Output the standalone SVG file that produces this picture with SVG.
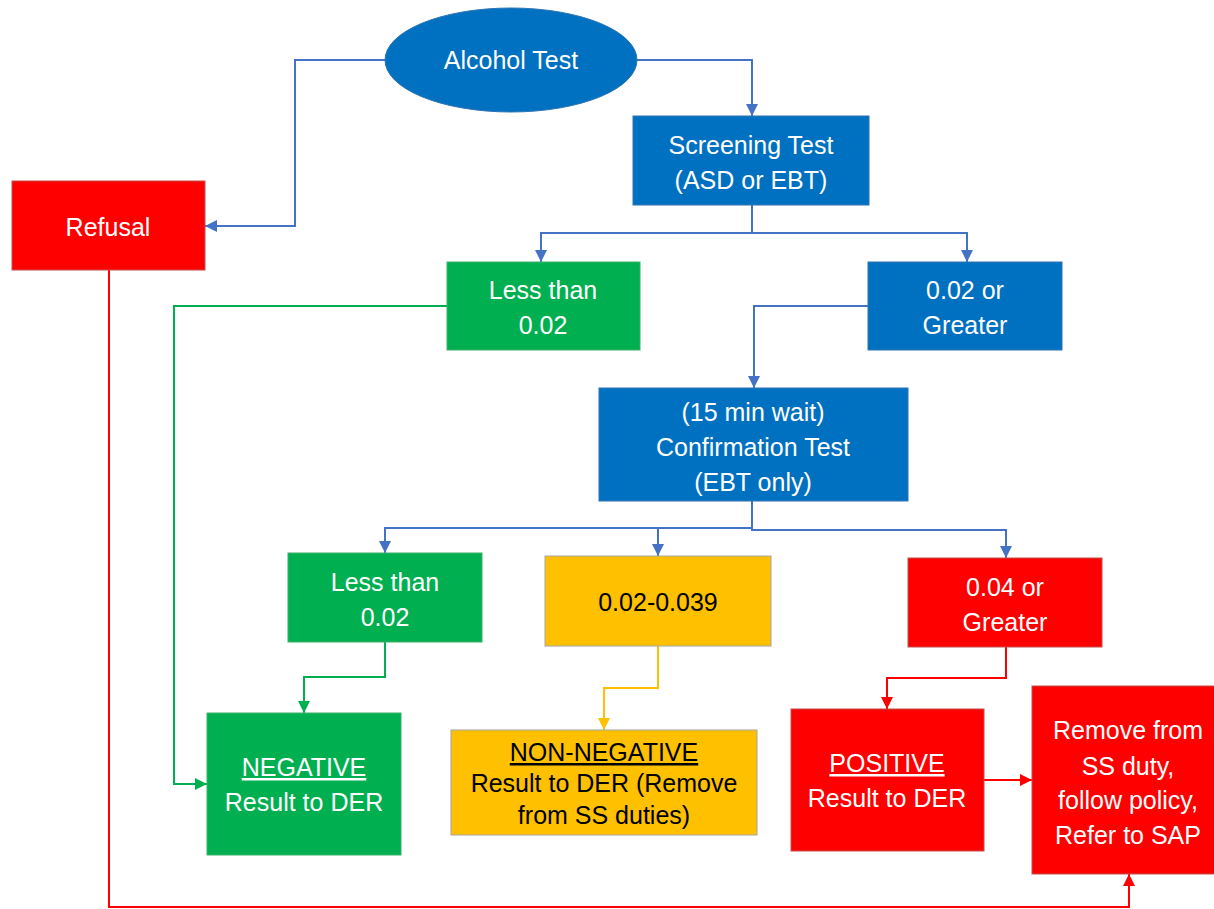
<svg xmlns="http://www.w3.org/2000/svg" width="1214" height="909" viewBox="0 0 1214 909">
<style>
.t{font-family:"Liberation Sans",Arial,sans-serif;font-size:25px;text-anchor:middle;fill:#ffffff}
.k{fill:#000000}
.u{text-decoration:underline}
.blue{fill:#0070C0;stroke:#2E75B6;stroke-width:1}
.green{fill:#00B050;stroke:#3BAF6E;stroke-width:1}
.red{fill:#FF0000;stroke:#C0504D;stroke-width:1}
.orange{fill:#FFC000;stroke:#A5A5A5;stroke-width:1}
.c{fill:none;stroke-width:2}
.cb{stroke:#4472C4;marker-end:url(#ab)}
.cg{stroke:#00B050;marker-end:url(#ag)}
.co{stroke:#FFC000;marker-end:url(#ao)}
.cr{stroke:#FF0000;marker-end:url(#ar)}
</style>
<defs>
<marker id="ab" viewBox="0 0 10 10" refX="10" refY="5" markerWidth="6" markerHeight="6" orient="auto" markerUnits="strokeWidth"><path d="M0,0 L10,5 L0,10 Z" fill="#4472C4"/></marker>
<marker id="ag" viewBox="0 0 10 10" refX="10" refY="5" markerWidth="6" markerHeight="6" orient="auto" markerUnits="strokeWidth"><path d="M0,0 L10,5 L0,10 Z" fill="#00B050"/></marker>
<marker id="ao" viewBox="0 0 10 10" refX="10" refY="5" markerWidth="6" markerHeight="6" orient="auto" markerUnits="strokeWidth"><path d="M0,0 L10,5 L0,10 Z" fill="#FFC000"/></marker>
<marker id="ar" viewBox="0 0 10 10" refX="10" refY="5" markerWidth="6" markerHeight="6" orient="auto" markerUnits="strokeWidth"><path d="M0,0 L10,5 L0,10 Z" fill="#FF0000"/></marker>
</defs>
<rect width="1214" height="909" fill="#ffffff"/>
<g id="connectors">
<path class="c cb" d="M385,60 H295 V226 H205"/>
<path class="c cb" d="M637,60 H752 V116"/>
<path class="c cb" d="M752,205 V233 H541 V262"/>
<path class="c cb" d="M752,233 H967 V262"/>
<path class="c cb" d="M868,306 H754 V388"/>
<path class="c cb" d="M752,501 V528 H385 V553"/>
<path class="c cb" d="M658,528 V556"/>
<path class="c cb" d="M752,528 V530 H1006 V558"/>
<path class="c cg" d="M447,306 H174 V784 H207"/>
<path class="c cg" d="M385,642 V677 H304 V713"/>
<path class="c co" d="M658,646 V688 H604 V730"/>
<path class="c cr" d="M1006,647 V678 H887 V709"/>
<path class="c cr" d="M984,780 H1032"/>
<path class="c cr" d="M109,270 V907 H1129 V874"/>
</g>
<g id="alcohol-test"><ellipse class="blue" cx="511" cy="60" rx="126" ry="52"/><text class="t" x="511" y="69">Alcohol Test</text></g>
<g id="screening-test"><rect class="blue" x="633" y="116" width="236" height="89"/><text class="t" x="751" y="154">Screening Test</text><text class="t" x="751" y="189">(ASD or EBT)</text></g>
<g id="refusal"><rect class="red" x="12" y="181" width="193" height="89"/><text class="t" x="108" y="236">Refusal</text></g>
<g id="less-than-1"><rect class="green" x="447" y="262" width="193" height="88"/><text class="t" x="543" y="299">Less than</text><text class="t" x="543" y="334">0.02</text></g>
<g id="greater-002"><rect class="blue" x="868" y="262" width="194" height="88"/><text class="t" x="965" y="299">0.02 or</text><text class="t" x="965" y="334">Greater</text></g>
<g id="confirmation-test"><rect class="blue" x="599" y="388" width="309" height="113"/><text class="t" x="753" y="421">(15 min wait)</text><text class="t" x="753" y="456">Confirmation Test</text><text class="t" x="753" y="491">(EBT only)</text></g>
<g id="less-than-2"><rect class="green" x="288" y="553" width="194" height="89"/><text class="t" x="385" y="591">Less than</text><text class="t" x="385" y="626">0.02</text></g>
<g id="range-002-0039"><rect class="orange" x="545" y="556" width="226" height="90"/><text class="t k" x="658" y="611">0.02-0.039</text></g>
<g id="greater-004"><rect class="red" x="908" y="558" width="194" height="89"/><text class="t" x="1005" y="596">0.04 or</text><text class="t" x="1005" y="631">Greater</text></g>
<g id="negative"><rect class="green" x="207" y="713" width="194" height="142"/><text class="t u" x="304" y="776">NEGATIVE</text><text class="t" x="304" y="811">Result to DER</text></g>
<g id="non-negative"><rect class="orange" x="451" y="730" width="306" height="105"/><text class="t k u" x="604" y="761">NON-NEGATIVE</text><text class="t k" x="604" y="792">Result to DER (Remove</text><text class="t k" x="604" y="824">from SS duties)</text></g>
<g id="positive"><rect class="red" x="791" y="709" width="193" height="142"/><text class="t u" x="887" y="772">POSITIVE</text><text class="t" x="887" y="807">Result to DER</text></g>
<g id="remove"><rect class="red" x="1032" y="686" width="192" height="188"/><text class="t" x="1128" y="739">Remove from</text><text class="t" x="1128" y="775">SS duty,</text><text class="t" x="1128" y="809">follow policy,</text><text class="t" x="1128" y="844">Refer to SAP</text></g>
</svg>
